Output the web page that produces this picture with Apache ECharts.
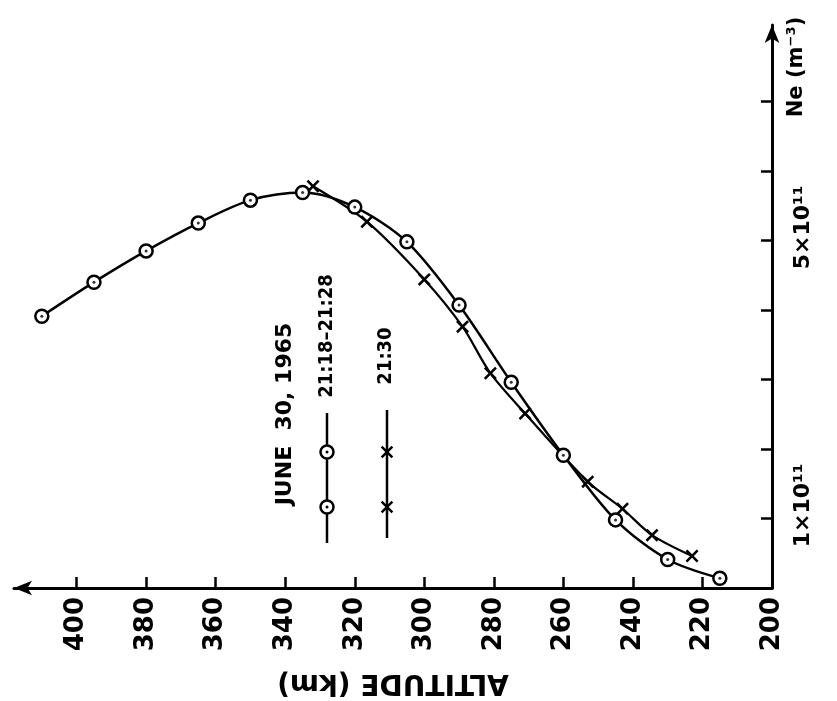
<!DOCTYPE html>
<html>
<head>
<meta charset="utf-8">
<script src="https://cdn.jsdelivr.net/npm/echarts@6/dist/echarts.min.js"></script>
<style>
html, body { margin: 0; background: #fff; }
#chart { width: 837px; height: 701px; }
</style>
</head>
<body>
<div id="chart"></div>
<script>
// altitude in km, Ne in units of 1e11 m^-3
var altCircle = [410, 395, 380, 365, 350, 335, 320, 305, 290, 275, 260, 245, 230, 215];
var neCircle  = [3.91, 4.40, 4.85, 5.25, 5.58, 5.69, 5.48, 4.98, 4.07, 2.96, 1.91, 0.98, 0.41, 0.14];
var altCross  = [332, 316.5, 300, 289, 281, 271, 253, 243, 234.5, 223];
var neCross   = [5.78, 5.27, 4.44, 3.76, 3.09, 2.51, 1.53, 1.14, 0.76, 0.46];
var altTicks  = [200, 220, 240, 260, 280, 300, 320, 340, 360, 380, 400];
var neTicks   = [1, 2, 3, 4, 5, 6, 7];
var neLabelValues = [1, 5];
var neLabelText   = {1: '1×10¹¹', 5: '5×10¹¹'};

var FONT = "'DejaVu Sans', sans-serif";
var FONT_C = "'DejaVu Sans Condensed', 'DejaVu Sans', sans-serif";
var crossPts = [[-5,-3.6],[-3.6,-5],[0,-1.4],[3.6,-5],[5,-3.6],[1.4,0],[5,3.6],[3.6,5],[0,1.4],[-3.6,5],[-5,3.6],[-1.4,0]];
var crossPath = 'path://M' + crossPts.map(function(p) { return p[0] + ',' + p[1]; }).join('L') + 'Z';

function pairs(xs, ys) {
    var out = [];
    for (var i = 0; i < xs.length; i++) {
        out.push([xs[i], ys[i]]);
    }
    return out;
}

// legend key, drawn upright like the rotated original
function legendCircle(x, y) {
    return [
        {type: 'circle', x: x, y: y, shape: {r: 6.5}, style: {fill: '#fff', stroke: '#000', lineWidth: 2.5}, z: 10},
        {type: 'circle', x: x, y: y, shape: {r: 1.5}, style: {fill: '#000'}, z: 11}
    ];
}
function legendCross(x, y) {
    return [{type: 'polygon', x: x, y: y, scaleX: 1.25, scaleY: 1.25, shape: {points: crossPts},
             style: {fill: '#000'}, z: 10}];
}
function rotText(text, x, y, size, family) {
    return {type: 'text', x: x, y: y, rotation: Math.PI / 2,
            style: {text: text, fill: '#000', font: 'bold ' + size + 'px ' + (family || FONT),
                    align: 'center', verticalAlign: 'middle'}};
}

var graphics = [
    {type: 'line', shape: {x1: 327, y1: 413, x2: 327, y2: 543}, style: {stroke: '#000', lineWidth: 2.5}},
    {type: 'line', shape: {x1: 387, y1: 410, x2: 387, y2: 538}, style: {stroke: '#000', lineWidth: 2.5}},
    rotText('JUNE  30, 1965', 285, 414, 22),
    rotText('21:18–21:28', 327, 336, 20, FONT_C),
    rotText('21:30', 386, 356, 20, FONT_C),
    rotText('Ne (m⁻³)', 797, 67, 21)
].concat(legendCircle(327, 452), legendCircle(327, 507), legendCross(387, 452), legendCross(387, 507));

var chart = echarts.init(document.getElementById('chart'));
var option = {
    animation: false,
    backgroundColor: '#fff',
    grid: {left: 14, right: 65, top: 25, bottom: 113, outerBoundsMode: 'none', containLabel: false},
    xAxis: {
        type: 'value',
        min: 200,
        max: 418,
        interval: 20,
        inverse: true,
        name: 'ALTITUDE (km)',
        nameLocation: 'middle',
        nameRotate: 180,
        nameGap: 80,
        nameTextStyle: {color: '#000', fontFamily: FONT, fontWeight: 'bold', fontSize: 28},
        splitLine: {show: false},
        // inverse axis: the arrow belongs at the start end (drawn on the left)
        axisLine: {lineStyle: {color: '#000', width: 3}, symbol: ['arrow', 'none'], symbolSize: [11, 18]},
        axisTick: {inside: true, length: 11, lineStyle: {color: '#000', width: 2.5}, customValues: altTicks},
        axisLabel: {rotate: 90, margin: 9, color: '#000', fontFamily: FONT, fontWeight: 'bold', fontSize: 26,
                    customValues: altTicks}
    },
    yAxis: {
        type: 'value',
        position: 'right',
        min: 0,
        max: 8.1,
        interval: 1,
        splitLine: {show: false},
        axisLine: {lineStyle: {color: '#000', width: 3}, symbol: ['none', 'arrow'], symbolSize: [11, 18]},
        axisTick: {inside: true, length: 11, lineStyle: {color: '#000', width: 2.5}, customValues: neTicks},
        axisLabel: {rotate: 90, margin: 20, color: '#000', fontFamily: FONT, fontWeight: 'bold', fontSize: 22,
                    padding: [0, 0, 0, 26],
                    customValues: neLabelValues,
                    formatter: function(v) { return neLabelText[v] || ''; }}
    },
    series: [
        {
            name: '21:30',
            type: 'line',
            smooth: 0.3,
            data: pairs(altCross, neCross),
            symbol: crossPath,
            symbolSize: 13,
            itemStyle: {color: '#000'},
            lineStyle: {color: '#000', width: 2.2}
        },
        {
            name: '21:18-21:28',
            type: 'line',
            smooth: 0.3,
            data: pairs(altCircle, neCircle),
            symbol: 'circle',
            symbolSize: 13,
            itemStyle: {color: '#fff', borderColor: '#000', borderWidth: 2.5},
            lineStyle: {color: '#000', width: 2.5}
        },
        {
            // centre dots of the ringed markers
            name: '21:18-21:28 dots',
            type: 'scatter',
            silent: true,
            data: pairs(altCircle, neCircle),
            symbolSize: 3,
            itemStyle: {color: '#000'},
            z: 5
        }
    ],
    graphic: graphics
};
chart.setOption(option);
</script>
</body>
</html>
